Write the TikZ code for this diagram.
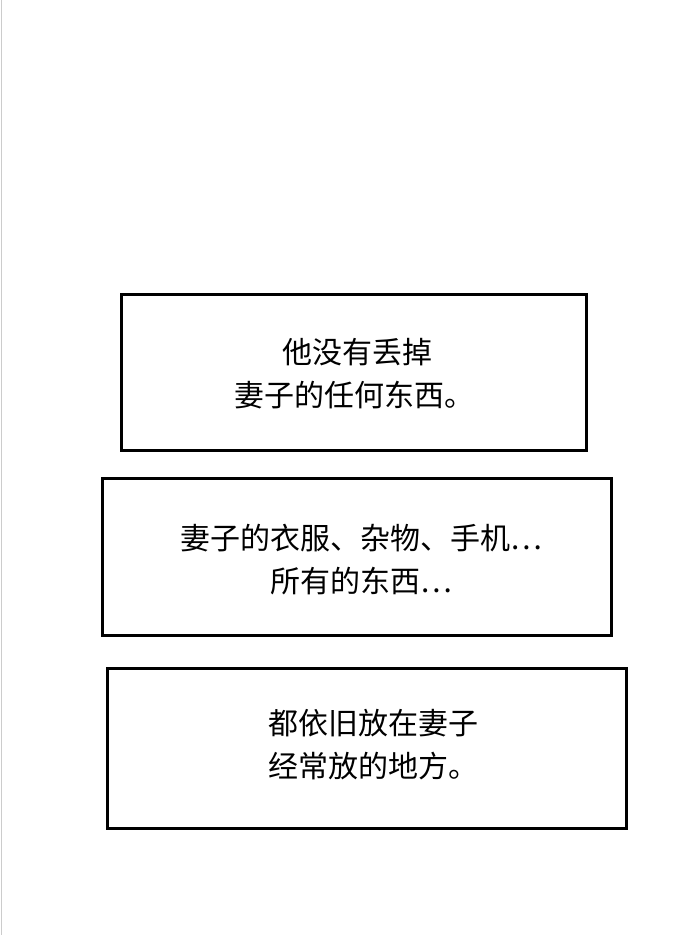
\documentclass[tikz,border=0pt]{standalone}
\usepackage{fontspec}
\newfontfamily\cjk{Noto Sans CJK SC}
\begin{document}
\begin{tikzpicture}[x=1pt,y=-1pt,
  panel/.style={draw=black,line width=3pt,fill=white},
  txt/.style={font=\cjk\fontsize{30}{43}\selectfont,align=center,inner sep=0}]
\useasboundingbox (0,0) rectangle (690,935);
\fill[white] (0,0) rectangle (690,935);
\draw[gray!40,line width=1pt] (1.5,0) -- (1.5,935);
\draw[panel] (121,294) rectangle (586,450);
\draw[panel] (102,478) rectangle (611,635);
\draw[panel] (107,668) rectangle (626,828);
\node[txt] (t1) at (354,374) {\ 他没有丢掉\\妻子的任何东西。};
\node[txt] (t2) at (361,560) {妻子的衣服、杂物、手机…\\所有的东西…};
\node[txt,align=left] (t3) at (373,745) {都依旧放在妻子\\经常放的地方。};
\end{tikzpicture}
\end{document}
